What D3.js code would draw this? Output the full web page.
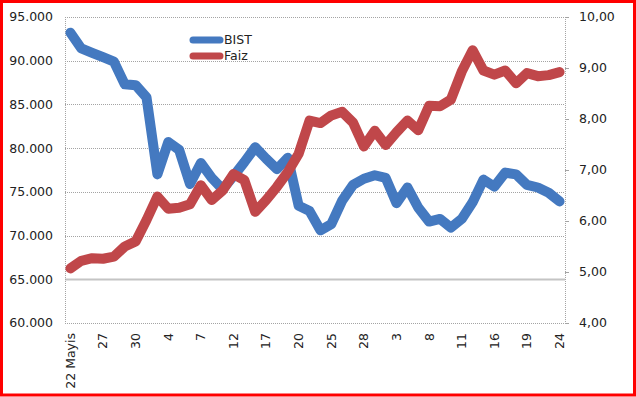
<!DOCTYPE html>
<html>
<head>
<meta charset="utf-8">
<script src="https://cdn.jsdelivr.net/npm/d3@7"></script>
<style>
  body { margin: 0; background: #fff; }
  svg text { font-family: "DejaVu Sans", Verdana, sans-serif; fill: #222; }
</style>
</head>
<body>
<script>
// trading days, 22 May - 24 July
const days = ["22 Mayis","23","24","27","28","29","30","31",
  "3","4","5","6","7","10","11","12","13","14","17","18","19","20","21",
  "24","25","26","27","28",
  "1","2","3","4","5","8","9","10","11","12","15","16","17","18","19","22","23","24"]

const bist = [93200,91400,90900,90400,89900,87300,87200,85800,77000,80700,
  79800,75900,78300,76600,75300,76800,78400,80100,78800,77600,
  78900,73400,72800,70600,71300,74000,75800,76500,76900,76600,
  73700,75500,73200,71600,71900,70900,71900,73800,76400,75600,
  77200,77000,75800,75500,74900,73900]

const faiz = [5.07,5.22,5.27,5.26,5.30,5.50,5.60,6.02,6.48,6.24,
  6.26,6.33,6.70,6.41,6.60,6.92,6.80,6.18,6.41,6.67,
  6.96,7.32,7.97,7.92,8.07,8.14,7.93,7.46,7.77,7.49,
  7.74,7.97,7.78,8.26,8.25,8.38,8.93,9.35,8.95,8.87,
  8.95,8.70,8.90,8.84,8.86,8.92]

const leftTicks = [60000,65000,70000,75000,80000,85000,90000,95000]
const rightTicks = [4,5,6,7,8,9,10]

const width = 636, height = 397
const margin = { top: 17, right: 71, bottom: 74, left: 65 }

const svg = d3.select('body').append('svg')
  .attr('width', width)
  .attr('height', height)

svg.append('rect')
  .attr('x', 1.5).attr('y', 1.5)
  .attr('width', width - 3).attr('height', height - 3.5)
  .style('fill', '#fff')
  .style('stroke', '#ff0000')
  .style('stroke-width', 3)

const x = d3.scalePoint()
  .domain(d3.range(days.length))
  .range([margin.left, width - margin.right])
  .padding(0.5)

const yL = d3.scaleLinear()
  .domain([60000, 95000])
  .range([height - margin.bottom, margin.top])

const yR = d3.scaleLinear()
  .domain([4, 10])
  .range([height - margin.bottom, margin.top])

const tr = d3.formatLocale({ decimal: ',', thousands: '.', grouping: [3], currency: ['', ''] })
const fmtL = tr.format(',.0f')
const fmtR = tr.format('.2f')

const g = svg.append('g')

// grid
g.selectAll('.grid')
  .data(leftTicks)
  .enter()
  .append('line')
  .attr('x1', margin.left)
  .attr('x2', width - margin.right)
  .attr('y1', d => Math.round(yL(d)) + 0.5)
  .attr('y2', d => Math.round(yL(d)) + 0.5)
  .style('stroke', d => d === 65000 ? '#c4c4c4' : '#a4a4a4')
  .style('stroke-width', d => d === 65000 ? 2 : 1)
  .style('stroke-dasharray', d => d === 65000 ? null : '1,1')

// axis lines
;[margin.left, width - margin.right].forEach(xx => {
  g.append('line')
    .attr('x1', Math.round(xx) + 0.5).attr('x2', Math.round(xx) + 0.5)
    .attr('y1', margin.top).attr('y2', height - margin.bottom)
    .style('stroke', '#a4a4a4')
    .style('stroke-dasharray', '1,1')
})

// right axis ticks
g.selectAll('.rtick')
  .data(rightTicks)
  .enter()
  .append('line')
  .attr('x1', width - margin.right)
  .attr('x2', width - margin.right + 4)
  .attr('y1', d => Math.round(yR(d)) + 0.5)
  .attr('y2', d => Math.round(yR(d)) + 0.5)
  .style('stroke', '#a4a4a4')

// left labels
g.selectAll('.lLabel')
  .data(leftTicks)
  .enter()
  .append('text')
  .attr('x', 53)
  .attr('y', d => yL(d))
  .attr('dy', '0.35em')
  .attr('text-anchor', 'end')
  .style('font-size', '12.5px')
  .text(d => fmtL(d))

// right labels
g.selectAll('.rLabel')
  .data(rightTicks)
  .enter()
  .append('text')
  .attr('x', 579)
  .attr('y', d => yR(d))
  .attr('dy', '0.35em')
  .style('font-size', '12.5px')
  .text(d => fmtR(d))

// x labels, every third day
g.selectAll('.xLabel')
  .data(days.map((d, i) => [d, i]).filter(d => d[1] % 3 === 0))
  .enter()
  .append('text')
  .attr('transform', d => `translate(${x(d[1])}, ${height - margin.bottom + 10}) rotate(-90)`)
  .attr('dy', '0.35em')
  .attr('text-anchor', 'end')
  .style('font-size', '12.5px')
  .text(d => d[0])

const lineL = d3.line()
  .x((d, i) => x(i))
  .y(d => yL(d))

const lineR = d3.line()
  .x((d, i) => x(i))
  .y(d => yR(d))

const colors = { bist: '#4479c0', faiz: '#c0474a' }

g.append('path')
  .datum(bist)
  .attr('d', lineL)
  .style('fill', 'none')
  .style('stroke', colors.bist)
  .style('stroke-width', 10)
  .style('stroke-linejoin', 'round')
  .style('stroke-linecap', 'round')

g.append('path')
  .datum(faiz)
  .attr('d', lineR)
  .style('fill', 'none')
  .style('stroke', colors.faiz)
  .style('stroke-width', 10)
  .style('stroke-linejoin', 'round')
  .style('stroke-linecap', 'round')

// legend
const legend = g.append('g')
;[['BIST', colors.bist, 40], ['Faiz', colors.faiz, 56]].forEach(([name, c, yy]) => {
  legend.append('line')
    .attr('x1', 193).attr('x2', 220)
    .attr('y1', yy).attr('y2', yy)
    .style('stroke', c)
    .style('stroke-width', 7)
    .style('stroke-linecap', 'round')
  legend.append('text')
    .attr('x', 224)
    .attr('y', yy)
    .attr('dy', '0.35em')
    .style('font-size', '12.5px')
    .text(name)
})
</script>
</body>
</html>
